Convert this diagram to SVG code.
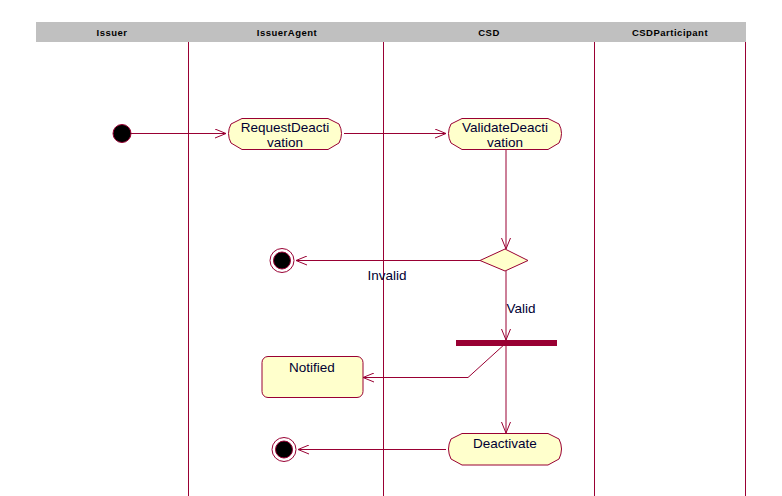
<svg xmlns="http://www.w3.org/2000/svg" width="782" height="496" viewBox="0 0 782 496">
<style>
.lane{stroke:#990033;stroke-width:1;fill:none}
.hdr{font-family:"Liberation Sans",Arial,sans-serif;font-size:9.5px;font-weight:bold;fill:#000;text-anchor:middle;letter-spacing:0.5px}
.act{fill:#FFFFCC;stroke:#990033;stroke-width:1}
.t{font-family:"Liberation Sans",Arial,sans-serif;font-size:13.5px;fill:#000033;text-anchor:middle}
.c{stroke:#990033;stroke-width:1;fill:none}
</style>
<defs>
<marker id="arr" markerWidth="12" markerHeight="10" refX="11" refY="5" orient="auto" markerUnits="userSpaceOnUse">
<path d="M0,0.5 L11,5 L0,9.5" fill="none" stroke="#990033" stroke-width="1"/>
</marker>
</defs>
<rect width="782" height="496" fill="#fff"/>
<g id="header">
<rect x="36" y="22" width="710" height="20" fill="#C0C0C0"/>
<text class="hdr" x="112" y="35.5">Issuer</text>
<text class="hdr" x="287" y="35.5">IssuerAgent</text>
<text class="hdr" x="489" y="35.5">CSD</text>
<text class="hdr" x="670" y="35.5">CSDParticipant</text>
</g>
<g id="lanes">
<line class="lane" x1="188.5" y1="42" x2="188.5" y2="496"/>
<line class="lane" x1="383.5" y1="42" x2="383.5" y2="496"/>
<line class="lane" x1="594.5" y1="42" x2="594.5" y2="496"/>
<line class="lane" x1="745.5" y1="42" x2="745.5" y2="496"/>
</g>
<g id="connectors">
<line class="c" x1="131" y1="133.5" x2="226" y2="133.5" marker-end="url(#arr)"/>
<line class="c" x1="344" y1="133.5" x2="446" y2="133.5" marker-end="url(#arr)"/>
<line class="c" x1="506" y1="150" x2="506" y2="249" marker-end="url(#arr)"/>
<line class="c" x1="480" y1="260.5" x2="296" y2="260.5" marker-end="url(#arr)"/>
<line class="c" x1="506" y1="271" x2="506" y2="340" marker-end="url(#arr)"/>
<polyline class="c" points="506,343 468,377.5 363,377.5" marker-end="url(#arr)"/>
<line class="c" x1="506" y1="346" x2="506" y2="433" marker-end="url(#arr)"/>
<line class="c" x1="446" y1="449.5" x2="298" y2="449.5" marker-end="url(#arr)"/>
<text class="t" x="387" y="279.5">Invalid</text>
<text class="t" x="521" y="312.5">Valid</text>
</g>
<g id="start">
<circle cx="122" cy="133.5" r="9" fill="#000" stroke="#990033" stroke-width="1"/>
</g>
<g id="RequestDeactivation">
<path class="act" d="M242,118.5 H328 L339,124 Q344,133.5 339,143 L328,149.5 H242 L231,143 Q226,133.5 231,124 Z"/>
<text class="t" x="285" y="131.5">RequestDeacti</text>
<text class="t" x="285" y="146.5">vation</text>
</g>
<g id="ValidateDeactivation">
<path class="act" d="M462,118.5 H548 L559,124 Q564,133.5 559,143 L548,149.5 H462 L451,143 Q446,133.5 451,124 Z"/>
<text class="t" x="505" y="131.5">ValidateDeacti</text>
<text class="t" x="505" y="146.5">vation</text>
</g>
<g id="decision">
<polygon class="act" points="505,249 528,260.5 505,271 480,260.5"/>
</g>
<g id="end1">
<circle cx="282" cy="260.5" r="12" fill="#fff" stroke="#990033" stroke-width="1"/>
<circle cx="282" cy="260.5" r="8.5" fill="#000" stroke="#990033" stroke-width="1"/>
</g>
<g id="fork">
<rect x="456" y="340" width="101" height="6" fill="#990033"/>
</g>
<g id="Notified">
<rect class="act" x="262" y="356.5" width="101" height="41" rx="6" ry="6"/>
<text class="t" x="312" y="371.5">Notified</text>
</g>
<g id="Deactivate">
<path class="act" d="M462,433.5 H548 L559,439 Q564,449 559,459 L548,465 H462 L451,459 Q446,449 451,439 Z"/>
<text class="t" x="505" y="447.5">Deactivate</text>
</g>
<g id="end2">
<circle cx="284" cy="449.5" r="12" fill="#fff" stroke="#990033" stroke-width="1"/>
<circle cx="284" cy="449.5" r="8.5" fill="#000" stroke="#990033" stroke-width="1"/>
</g>
</svg>
